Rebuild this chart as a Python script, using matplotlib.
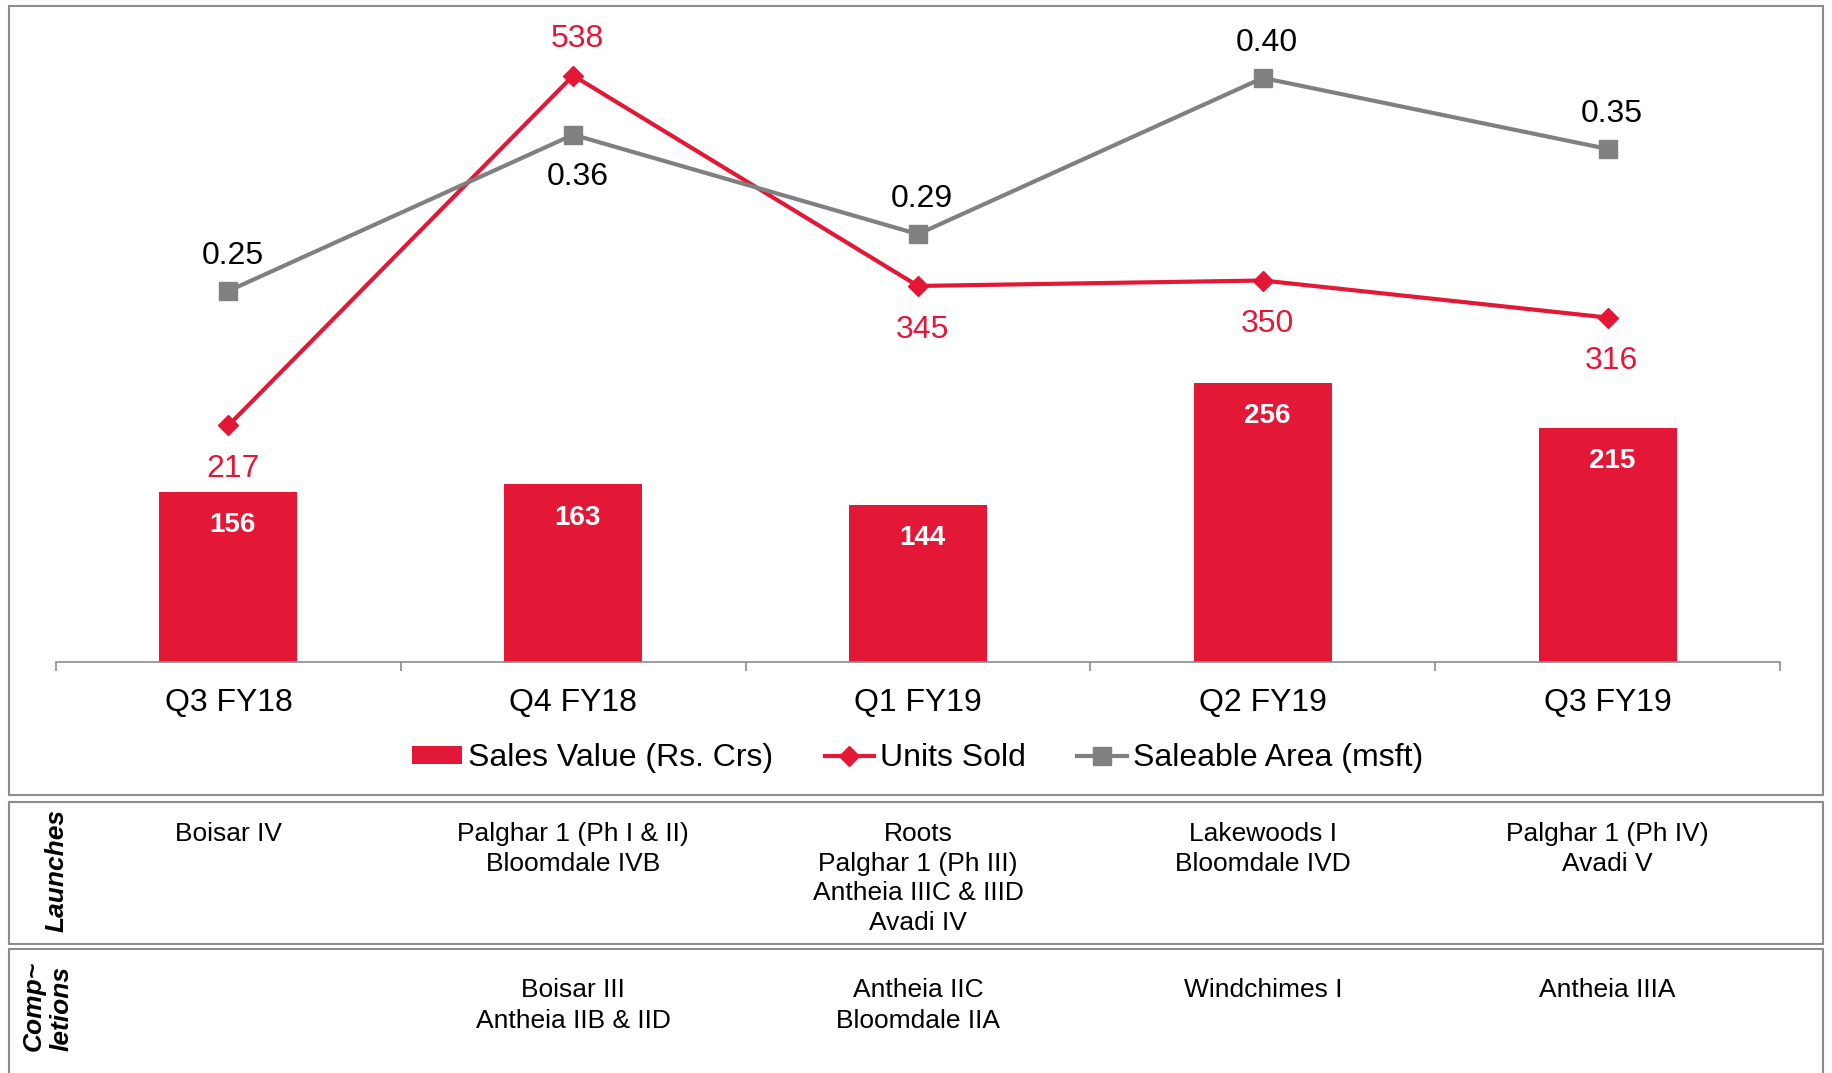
import matplotlib.pyplot as plt
from matplotlib.patches import Rectangle
from matplotlib.transforms import blended_transform_factory

quarters = ['Q3 FY18', 'Q4 FY18', 'Q1 FY19', 'Q2 FY19', 'Q3 FY19']
sales_value = [156, 163, 144, 256, 215]
units_sold = [217, 538, 345, 350, 316]
saleable_area = [0.25, 0.36, 0.29, 0.40, 0.35]

launches = ['Boisar IV',
            'Palghar 1 (Ph I & II)\nBloomdale IVB',
            'Roots\nPalghar 1 (Ph III)\nAntheia IIIC & IIID\nAvadi IV',
            'Lakewoods I\nBloomdale IVD',
            'Palghar 1 (Ph IV)\nAvadi V']
completions = ['',
               'Boisar III\nAntheia IIB & IID',
               'Antheia IIC\nBloomdale IIA',
               'Windchimes I',
               'Antheia IIIA']

# which side of the marker each data label sits on
units_side = ['below', 'above', 'below', 'below', 'below']
area_side = ['above', 'below', 'above', 'above', 'above']

RED = '#E31837'
GRAY = '#808080'
BORDER = '#8C8C8C'

plt.rcParams['font.family'] = ['Liberation Sans', 'DejaVu Sans']

W, H = 1833, 1073
fig = plt.figure(figsize=(W / 100, H / 100), dpi=100)


def fx(px):
    return px / W


def fy(py):
    return 1 - py / H


# main chart
ax = fig.add_axes([fx(56), fy(662), fx(1780) - fx(56), fy(20) - fy(662)])
x = list(range(len(quarters)))
bars = ax.bar(x, sales_value, width=0.4, color=RED, label='Sales Value (Rs. Crs)', zorder=2)
line_u, = ax.plot(x, units_sold, color=RED, lw=3, marker='D', ms=10,
                  label='Units Sold', zorder=3)
ax.set_ylim(0, 589)
ax.set_xlim(-0.5, len(quarters) - 0.5)

ax2 = ax.twinx()
line_a, = ax2.plot(x, saleable_area, color=GRAY, lw=3, marker='s', ms=13,
                   label='Saleable Area (msft)')
ax2.set_ylim(-0.0113, 0.4408)

for a in (ax, ax2):
    for s in ['top', 'left', 'right']:
        a.spines[s].set_visible(False)
    a.set_yticks([])
ax2.spines['bottom'].set_visible(False)
ax.spines['bottom'].set_color(BORDER)
ax.spines['bottom'].set_linewidth(1.2)

ax.set_xticks(x, quarters)
ax.set_xticks([i - 0.5 for i in range(len(quarters) + 1)], minor=True)
ax.tick_params(axis='x', which='major', length=0, pad=19, labelsize=23)
ax.tick_params(axis='x', which='minor', length=6.5, width=1.2, color=BORDER)

# data labels
for i, v in enumerate(sales_value):
    ax.annotate(str(v), (i, v), xytext=(3, -24), textcoords='offset points',
                ha='center', va='center', color='white', fontweight='bold', fontsize=20)
for i, v in enumerate(units_sold):
    dy = 26.5 if units_side[i] == 'above' else -31.5
    ax.annotate(str(v), (i, v), xytext=(3, dy), textcoords='offset points',
                ha='center', va='center', color=RED, fontsize=23)
for i, v in enumerate(saleable_area):
    dy = 25.5 if area_side[i] == 'above' else -30.5
    ax2.annotate(f'{v:.2f}', (i, v), xytext=(3, dy), textcoords='offset points',
                 ha='center', va='center', color='black', fontsize=23)

fig.legend(handles=[bars, line_u, line_a], loc='center', bbox_to_anchor=(fx(918), fy(758)),
           ncol=3, frameon=False, fontsize=23, handlelength=1.55, handleheight=0.5,
           handletextpad=0.2, columnspacing=1.6)

# boxes round the chart and the table rows
for top, bottom in [(6, 795), (802, 944), (949, 1090)]:
    fig.add_artist(Rectangle((fx(9), fy(bottom)), fx(1823) - fx(9), fy(top) - fy(bottom),
                             fill=False, edgecolor=BORDER, lw=1.5, transform=fig.transFigure))

# table text under each quarter
trans = blended_transform_factory(ax.transData, fig.transFigure)
for i, t in enumerate(launches):
    ax.text(i, fy(822), t, transform=trans, ha='center', va='top', fontsize=19,
            linespacing=1.3, clip_on=False)
for i, t in enumerate(completions):
    ax.text(i, fy(978), t, transform=trans, ha='center', va='top', fontsize=19,
            linespacing=1.36, clip_on=False)

fig.text(fx(57), fy(871), 'Launches', rotation=90, ha='center', va='center',
         fontsize=19, fontweight='bold', fontstyle='italic')
fig.text(fx(48), fy(1006), 'Comp~\nletions', rotation=90, ha='center', va='center',
         multialignment='left', linespacing=1.2,
         fontsize=19, fontweight='bold', fontstyle='italic')

fig.savefig('out.png', dpi=100)
